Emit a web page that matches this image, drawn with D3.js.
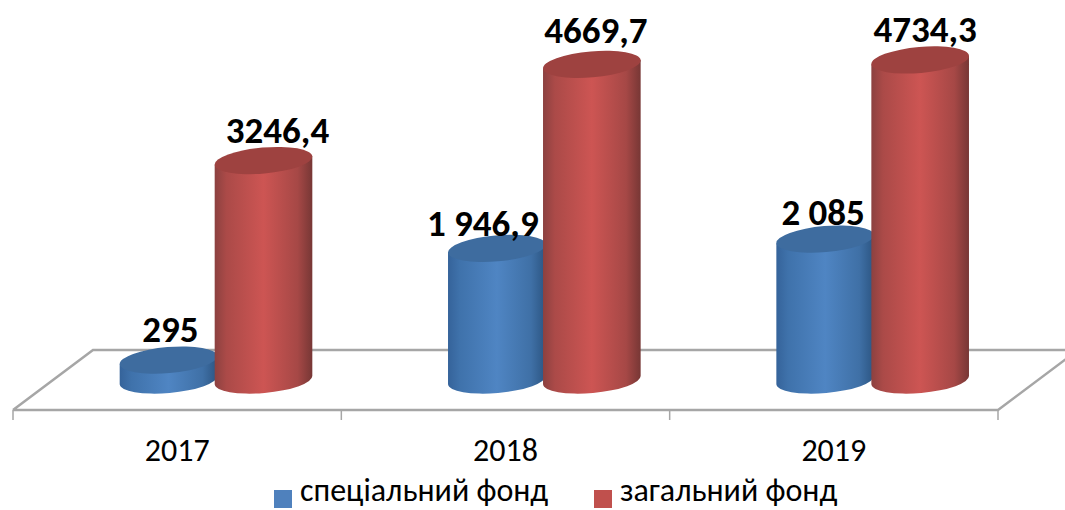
<!DOCTYPE html>
<html>
<head>
<meta charset="utf-8">
<script src="https://cdn.jsdelivr.net/npm/d3@7"></script>
<style>
  html, body { margin: 0; padding: 0; background: #fff; }
  svg { display: block; }
  text { font-family: Carlito, Lato, "Open Sans", sans-serif; fill: #000; }
</style>
</head>
<body>
<div id="chart"></div>
<script>
var years = ['2017', '2018', '2019']
var seriesNames = ['спеціальний фонд', 'загальний фонд']
var specialValues = [295, 1946.9, 2085]
var generalValues = [3246.4, 4669.7, 4734.3]
var specialLabels = ['295', '1 946,9', '2 085']
var generalLabels = ['3246,4', '4669,7', '4734,3']

var width = 1065, height = 510

var svg = d3.select('#chart').append('svg')
  .attr('width', width)
  .attr('height', height)

// floor of the 3d chart
var floorY = 410, depthX = 80, depthY = 60, baseY = 380

var x0 = d3.scaleBand().domain(years).range([13, 998])
var x1 = d3.scaleBand().domain(seriesNames).range([108, 298])
var y = d3.scaleLinear().domain([0, 5000]).range([baseY, baseY - 338])
var color = d3.scaleOrdinal().domain(seriesNames).range(['#4f81bd', '#c0504d'])

function makeGradient(id, stops) {
  var g = defs.append('linearGradient').attr('id', id)
  stops.forEach(function (s) {
    g.append('stop').attr('offset', s[0]).attr('stop-color', s[1])
  })
}

var defs = svg.append('defs')
makeGradient('side0', [[0, '#35639a'], [0.12, '#3f72ab'], [0.5, '#4f85c3'], [0.85, '#3f70a6'], [1, '#2c5582']])
makeGradient('side1', [[0, '#8c4140'], [0.12, '#ab4a48'], [0.5, '#cd5553'], [0.85, '#a64846'], [1, '#773735']])

var topColors = ['#3e6c9f', '#9e4240']

svg.append('path')
  .attr('d', d3.line()([
    [13, floorY],
    [998, floorY],
    [998 + depthX, floorY - depthY],
    [13 + depthX, floorY - depthY],
    [13, floorY]
  ]))
  .attr('fill', 'none')
  .attr('stroke', '#a6a6a6')
  .attr('stroke-width', 2.5)

// tick marks under the floor
var tickXs = years.map(function (d) { return x0(d) }).concat([998])
svg.selectAll('.tick-mark')
  .data(tickXs)
  .enter().append('line')
    .attr('class', 'tick-mark')
    .attr('x1', function (d) { return d })
    .attr('x2', function (d) { return d })
    .attr('y1', floorY)
    .attr('y2', floorY + 10)
    .attr('stroke', '#a6a6a6')
    .attr('stroke-width', 1.5)

svg.selectAll('.year')
  .data(years)
  .enter().append('text')
    .attr('class', 'year')
    .attr('x', function (d) { return x0(d) + x0.bandwidth() / 2 })
    .attr('y', 461)
    .attr('text-anchor', 'middle')
    .attr('font-size', 32)
    .text(function (d) { return d })

function cylinderPath(cx, yTop, yBase, rx, ry, rot) {
  var a = rot * Math.PI / 180
  var dx = rx * Math.cos(a), dy = rx * Math.sin(a)
  return 'M' + (cx - dx) + ',' + (yTop - dy) +
    'L' + (cx - dx) + ',' + (yBase - dy) +
    'A' + rx + ',' + ry + ' ' + rot + ' 0 0 ' + (cx + dx) + ',' + (yBase + dy) +
    'L' + (cx + dx) + ',' + (yTop + dy) + 'Z'
}

var rows = []
years.forEach(function (year, i) {
  rows.push({ year: year, s: 0, value: specialValues[i], label: specialLabels[i] })
  rows.push({ year: year, s: 1, value: generalValues[i], label: generalLabels[i] })
})

var barRx = 49, barRy = 13, barTilt = -5

function barX(d) {
  return x0(d.year) + x1(seriesNames[d.s]) + x1.bandwidth() / 2
}

var bars = svg.selectAll('.bar')
  .data(rows)
  .enter().append('g')
    .attr('class', 'bar')
    .attr('transform', function (d) { return 'translate(' + barX(d) + ',0)' })

bars.append('path')
  .attr('d', function (d) { return cylinderPath(0, y(d.value), baseY, barRx, barRy, barTilt) })
  .attr('fill', function (d) { return 'url(#side' + d.s + ')' })

bars.append('ellipse')
  .attr('cx', 0)
  .attr('cy', function (d) { return y(d.value) })
  .attr('rx', barRx)
  .attr('ry', barRy)
  .attr('transform', function (d) { return 'rotate(' + barTilt + ' 0 ' + y(d.value) + ')' })
  .attr('fill', function (d) { return topColors[d.s] })

// hand placed data labels, same order as rows
var labelDx = [2, 14, -14, 4, -2, 5]
var labelDy = [-18, -18, -12, -21, -14, -18]

svg.selectAll('.value-label')
  .data(rows)
  .enter().append('text')
    .attr('class', 'value-label')
    .attr('x', function (d, i) { return barX(d) + labelDx[i] })
    .attr('y', function (d, i) { return y(d.value) + labelDy[i] })
    .attr('text-anchor', 'middle')
    .attr('font-size', 37)
    .attr('font-weight', 'bold')
    .text(function (d) { return d.label })

// legend
var legendX = [274, 594]
var legend = svg.selectAll('.legend')
  .data(seriesNames)
  .enter().append('g')
    .attr('class', 'legend')
    .attr('transform', function (d, i) { return 'translate(' + legendX[i] + ',490)' })

legend.append('rect')
  .attr('width', 18)
  .attr('height', 18)
  .attr('fill', function (d) { return color(d) })

legend.append('text')
  .attr('x', 26)
  .attr('y', 11)
  .attr('font-size', 32)
  .text(function (d) { return d })
</script>
</body>
</html>
